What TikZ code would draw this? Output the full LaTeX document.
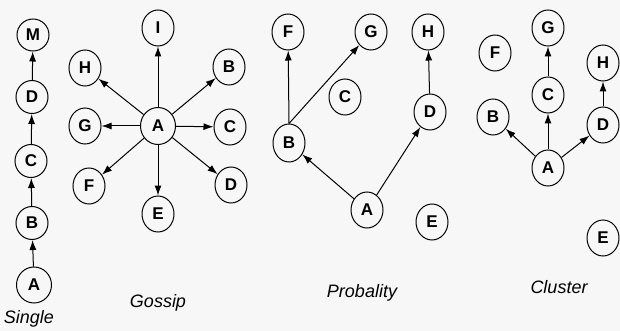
\documentclass[tikz,border=0pt]{standalone}
\usepackage{fontspec}
\setmainfont{Liberation Sans}
\usetikzlibrary{arrows.meta,shapes.geometric}
\begin{document}
\begin{tikzpicture}[x=1pt, y=-1pt, line width=1pt,
    >={Latex[length=10pt,width=7pt]},
    peer/.style={shape=ellipse, draw, minimum width=32pt, minimum height=36pt, inner sep=0pt,
      font=\fontsize{17}{17}\selectfont\bfseries},
    kind/.style={font=\fontsize{18}{18}\selectfont\itshape}]
    \fill [black!3] (0, 0) rectangle (620, 331);
    \useasboundingbox (0, 0) rectangle (620, 331);

    % Single
    \node (sA) [peer, minimum width=35pt] at (34, 285) {A};
    \node (sB) [peer, minimum height=33pt] at (32, 223) {B};
    \node (sC) [peer, minimum height=33pt] at (31, 161) {C};
    \node (sD) [peer, minimum height=33pt] at (32, 97) {D};
    \node (sM) [peer, minimum height=32pt] at (33, 35) {M};
    \node (single) [kind, anchor=west] at (0, 319) {Single};
    \draw [->] (sA) -- (sB);
    \draw [->] (sB) -- (sC);
    \draw [->] (sC) -- (sD);
    \draw [->] (sD) -- (sM);

    % Gossip
    \node (gA) [peer, minimum width=35pt, minimum height=37pt] at (158, 126) {A};
    \node (gI) [peer] at (158, 28) {I};
    \node (gH) [peer] at (85, 68) {H};
    \node (gB) [peer] at (229, 67) {B};
    \node (gG) [peer] at (85, 126) {G};
    \node (gC) [peer] at (230, 127) {C};
    \node (gF) [peer] at (89, 186) {F};
    \node (gE) [peer] at (158, 214) {E};
    \node (gD) [peer] at (231, 185) {D};
    \node (gossip) [kind] at (158, 303) {Gossip};
    \foreach \to in {gI, gH, gB, gG, gC, gF, gE, gD}
      \draw [->] (gA) -- (\to);

    % Probality
    \node (pF) [peer] at (288, 32) {F};
    \node (pG) [peer] at (371, 32) {G};
    \node (pH) [peer] at (428, 32) {H};
    \node (pC) [peer] at (345, 97) {C};
    \node (pD) [peer] at (430, 112) {D};
    \node (pB) [peer, minimum height=38pt] at (289, 143) {B};
    \node (pA) [peer] at (367, 210) {A};
    \node (pE) [peer] at (432, 222) {E};
    \node (probality) [kind] at (362, 293) {Probality};
    \draw [->] (pA) -- (pB);
    \draw [->] (pA) -- (pD);
    \draw [->] (pB.north) -- (pF);
    \draw [->] (pB.north) -- (pG);
    \draw [->] (pD) -- (pH);

    % Cluster
    \node (cG) [peer] at (548, 28) {G};
    \node (cF) [peer] at (495, 53) {F};
    \node (cH) [peer] at (603, 63) {H};
    \node (cC) [peer] at (548, 95) {C};
    \node (cB) [peer] at (493, 117) {B};
    \node (cD) [peer] at (603, 125) {D};
    \node (cA) [peer] at (548, 168) {A};
    \node (cE) [peer] at (603, 238) {E};
    \node (cluster) [kind] at (559, 287) {Cluster};
    \draw [->] (cA) -- (cB);
    \draw [->] (cA) -- (cC);
    \draw [->] (cA) -- (cD);
    \draw [->] (cC) -- (cG);
    \draw [->] (cD) -- (cH);
\end{tikzpicture}
\end{document}
